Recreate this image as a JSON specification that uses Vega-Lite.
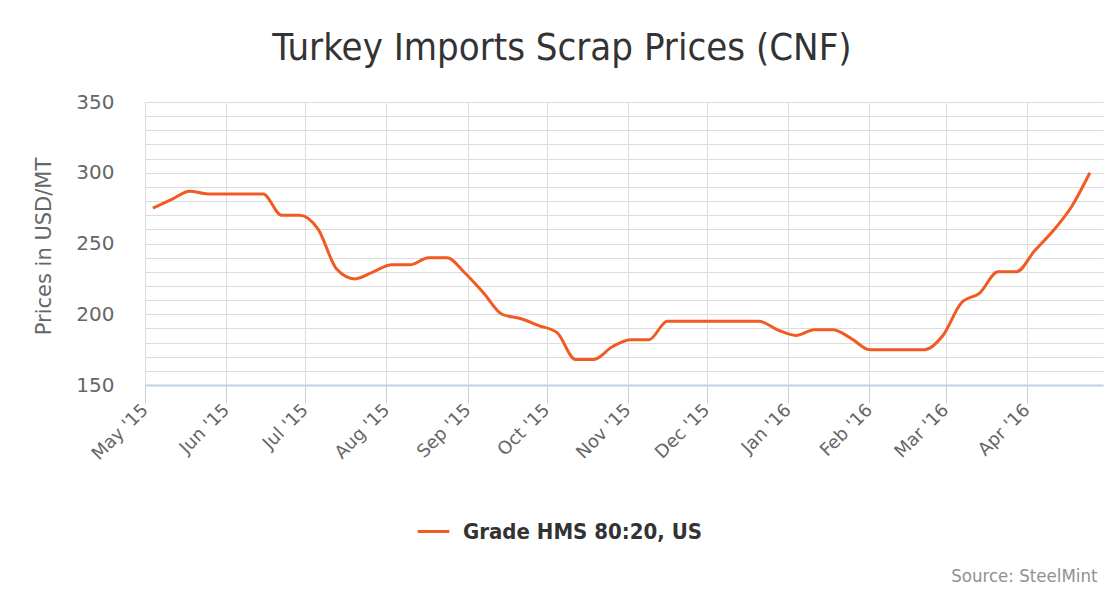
{
  "$schema": "https://vega.github.io/schema/vega-lite/v6.json",
  "width": 958,
  "height": 283,
  "autosize": {"type": "none"},
  "padding": {"left": 145, "top": 102, "right": 7, "bottom": 204},
  "background": "white",
  "title": {
    "text": "Turkey Imports Scrap Prices (CNF)",
    "font": "DejaVu Sans Condensed",
    "fontSize": 38,
    "fontWeight": "normal",
    "color": "#333333",
    "anchor": "middle",
    "frame": "group",
    "dx": -62,
    "baseline": "alphabetic",
    "offset": -6
  },
  "data": {
    "values": [
      {"date": "2015-05-04", "price": 275, "series": "Grade HMS 80:20, US"},
      {"date": "2015-05-11", "price": 281, "series": "Grade HMS 80:20, US"},
      {"date": "2015-05-18", "price": 287, "series": "Grade HMS 80:20, US"},
      {"date": "2015-05-25", "price": 285, "series": "Grade HMS 80:20, US"},
      {"date": "2015-06-01", "price": 285, "series": "Grade HMS 80:20, US"},
      {"date": "2015-06-08", "price": 285, "series": "Grade HMS 80:20, US"},
      {"date": "2015-06-15", "price": 285, "series": "Grade HMS 80:20, US"},
      {"date": "2015-06-22", "price": 270, "series": "Grade HMS 80:20, US"},
      {"date": "2015-06-29", "price": 270, "series": "Grade HMS 80:20, US"},
      {"date": "2015-07-06", "price": 260, "series": "Grade HMS 80:20, US"},
      {"date": "2015-07-13", "price": 232, "series": "Grade HMS 80:20, US"},
      {"date": "2015-07-20", "price": 225, "series": "Grade HMS 80:20, US"},
      {"date": "2015-07-27", "price": 230, "series": "Grade HMS 80:20, US"},
      {"date": "2015-08-03", "price": 235, "series": "Grade HMS 80:20, US"},
      {"date": "2015-08-10", "price": 235, "series": "Grade HMS 80:20, US"},
      {"date": "2015-08-17", "price": 240, "series": "Grade HMS 80:20, US"},
      {"date": "2015-08-24", "price": 240, "series": "Grade HMS 80:20, US"},
      {"date": "2015-08-31", "price": 229, "series": "Grade HMS 80:20, US"},
      {"date": "2015-09-07", "price": 215, "series": "Grade HMS 80:20, US"},
      {"date": "2015-09-14", "price": 200, "series": "Grade HMS 80:20, US"},
      {"date": "2015-09-21", "price": 197, "series": "Grade HMS 80:20, US"},
      {"date": "2015-09-28", "price": 192, "series": "Grade HMS 80:20, US"},
      {"date": "2015-10-05", "price": 187, "series": "Grade HMS 80:20, US"},
      {"date": "2015-10-12", "price": 168, "series": "Grade HMS 80:20, US"},
      {"date": "2015-10-19", "price": 168, "series": "Grade HMS 80:20, US"},
      {"date": "2015-10-26", "price": 177, "series": "Grade HMS 80:20, US"},
      {"date": "2015-11-02", "price": 182, "series": "Grade HMS 80:20, US"},
      {"date": "2015-11-09", "price": 182, "series": "Grade HMS 80:20, US"},
      {"date": "2015-11-16", "price": 195, "series": "Grade HMS 80:20, US"},
      {"date": "2015-11-23", "price": 195, "series": "Grade HMS 80:20, US"},
      {"date": "2015-11-30", "price": 195, "series": "Grade HMS 80:20, US"},
      {"date": "2015-12-07", "price": 195, "series": "Grade HMS 80:20, US"},
      {"date": "2015-12-14", "price": 195, "series": "Grade HMS 80:20, US"},
      {"date": "2015-12-21", "price": 195, "series": "Grade HMS 80:20, US"},
      {"date": "2015-12-28", "price": 189, "series": "Grade HMS 80:20, US"},
      {"date": "2016-01-04", "price": 185, "series": "Grade HMS 80:20, US"},
      {"date": "2016-01-11", "price": 189, "series": "Grade HMS 80:20, US"},
      {"date": "2016-01-18", "price": 189, "series": "Grade HMS 80:20, US"},
      {"date": "2016-01-25", "price": 183, "series": "Grade HMS 80:20, US"},
      {"date": "2016-02-01", "price": 175, "series": "Grade HMS 80:20, US"},
      {"date": "2016-02-08", "price": 175, "series": "Grade HMS 80:20, US"},
      {"date": "2016-02-15", "price": 175, "series": "Grade HMS 80:20, US"},
      {"date": "2016-02-22", "price": 175, "series": "Grade HMS 80:20, US"},
      {"date": "2016-02-29", "price": 185, "series": "Grade HMS 80:20, US"},
      {"date": "2016-03-07", "price": 208, "series": "Grade HMS 80:20, US"},
      {"date": "2016-03-14", "price": 215, "series": "Grade HMS 80:20, US"},
      {"date": "2016-03-21", "price": 230, "series": "Grade HMS 80:20, US"},
      {"date": "2016-03-28", "price": 230, "series": "Grade HMS 80:20, US"},
      {"date": "2016-04-04", "price": 245, "series": "Grade HMS 80:20, US"},
      {"date": "2016-04-11", "price": 259, "series": "Grade HMS 80:20, US"},
      {"date": "2016-04-18", "price": 276, "series": "Grade HMS 80:20, US"},
      {"date": "2016-04-25", "price": 300, "series": "Grade HMS 80:20, US"}
    ]
  },
  "mark": {"type": "line", "interpolate": "monotone", "strokeWidth": 3},
  "encoding": {
    "x": {
      "field": "date",
      "type": "temporal",
      "scale": {
        "type": "utc",
        "domain": [
          {"year": 2015, "month": 5, "date": 1, "utc": true},
          {"year": 2016, "month": 4, "date": 30, "utc": true}
        ]
      },
      "axis": {
        "values": [
          {"year": 2015, "month": 5, "date": 1, "utc": true},
          {"year": 2015, "month": 6, "date": 1, "utc": true},
          {"year": 2015, "month": 7, "date": 1, "utc": true},
          {"year": 2015, "month": 8, "date": 1, "utc": true},
          {"year": 2015, "month": 9, "date": 1, "utc": true},
          {"year": 2015, "month": 10, "date": 1, "utc": true},
          {"year": 2015, "month": 11, "date": 1, "utc": true},
          {"year": 2015, "month": 12, "date": 1, "utc": true},
          {"year": 2016, "month": 1, "date": 1, "utc": true},
          {"year": 2016, "month": 2, "date": 1, "utc": true},
          {"year": 2016, "month": 3, "date": 1, "utc": true},
          {"year": 2016, "month": 4, "date": 1, "utc": true}
        ],
        "format": "%b '%y",
        "labelAngle": -45,
        "labelAlign": "right",
        "labelBaseline": "middle",
        "labelFont": "DejaVu Sans",
        "labelFontSize": 18,
        "labelColor": "#666666",
        "labelPadding": 4,
        "labelOverlap": false,
        "labelFlush": false,
        "tickColor": "#c0d0e0",
        "tickSize": 18,
        "domainColor": "#c0d0e0",
        "domainWidth": 2,
        "grid": true,
        "gridColor": "#dcdcdc",
        "gridWidth": 1,
        "title": "Source: SteelMint",
        "titleFont": "DejaVu Sans Condensed",
        "titleFontSize": 18.5,
        "titleFontWeight": "normal",
        "titleColor": "#909090",
        "titleAnchor": "end",
        "titleAlign": "right",
        "titleBaseline": "alphabetic",
        "titleX": 952,
        "titleY": 196
      }
    },
    "y": {
      "field": "price",
      "type": "quantitative",
      "scale": {"domain": [150, 350], "nice": false, "zero": false},
      "axis": {
        "values": [150, 160, 170, 180, 190, 200, 210, 220, 230, 240, 250, 260, 270, 280, 290, 300, 310, 320, 330, 340, 350],
        "labelExpr": "datum.value % 50 === 0 ? datum.label : ''",
        "ticks": false,
        "domain": false,
        "grid": true,
        "gridColor": "#dcdcdc",
        "gridWidth": 1,
        "labelFont": "DejaVu Sans",
        "labelFontSize": 20,
        "labelColor": "#666666",
        "labelPadding": 31,
        "title": "Prices in USD/MT",
        "titleFont": "DejaVu Sans",
        "titleFontSize": 21,
        "titleFontWeight": "normal",
        "titleColor": "#666666",
        "titleAngle": -90,
        "titleAlign": "center",
        "titleBaseline": "middle",
        "titleX": -101,
        "titleY": 144
      }
    },
    "color": {
      "field": "series",
      "type": "nominal",
      "scale": {"domain": ["Grade HMS 80:20, US"], "range": ["#f15a22"]},
      "legend": {
        "title": null,
        "orient": "none",
        "legendX": 271,
        "legendY": 412,
        "symbolType": "stroke",
        "symbolStrokeWidth": 3,
        "symbolSize": 1000,
        "labelFont": "DejaVu Sans Condensed",
        "labelFontSize": 22,
        "labelFontWeight": "bold",
        "labelColor": "#333333",
        "labelOffset": 12,
        "labelLimit": 400
      }
    }
  },
  "config": {
    "view": {"stroke": null}
  }
}
